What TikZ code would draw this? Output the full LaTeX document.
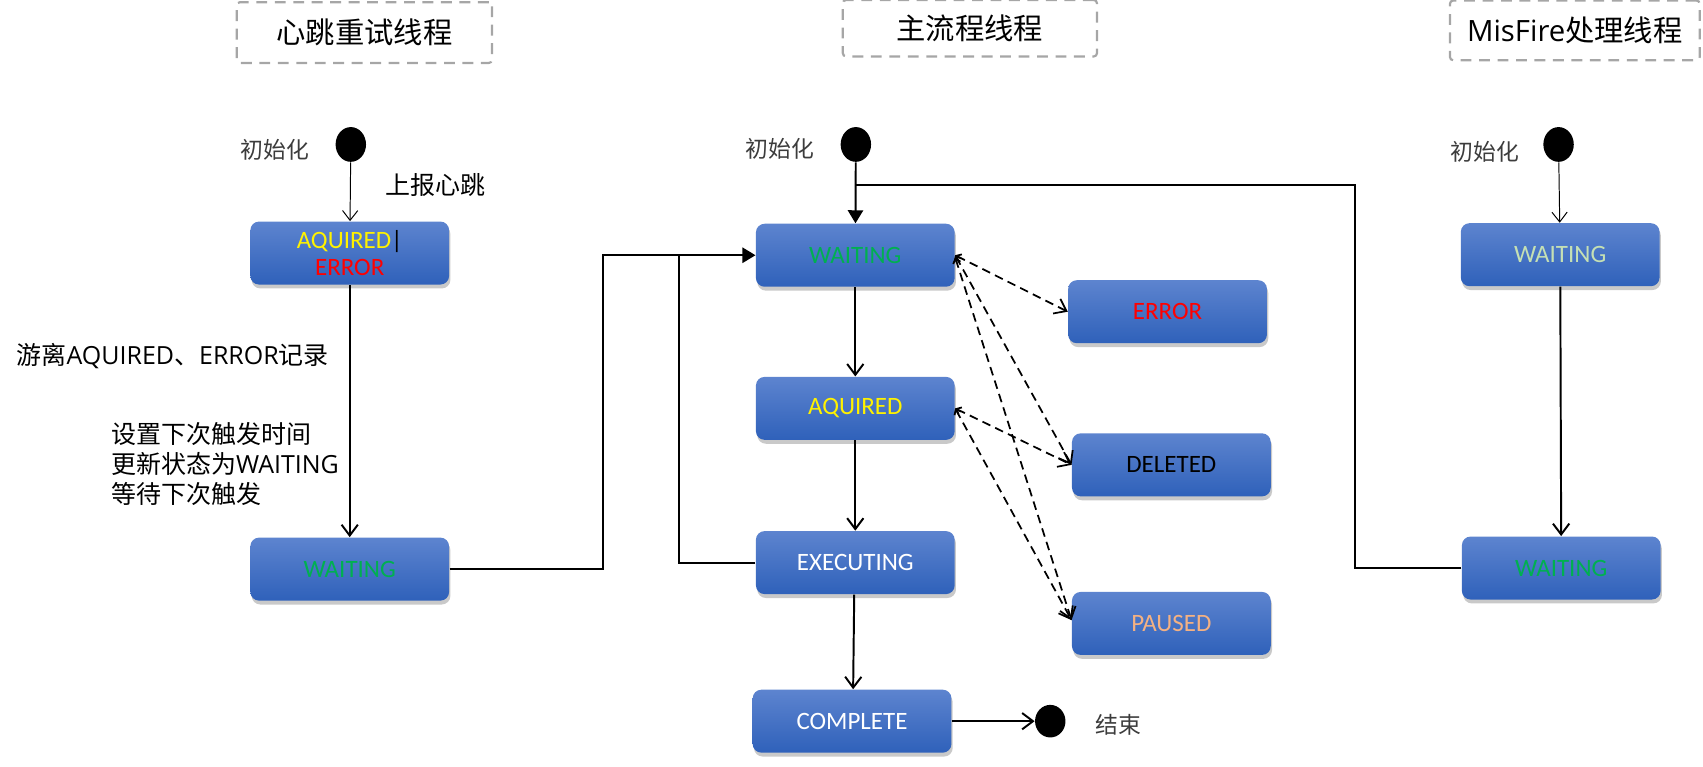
\documentclass[tikz,border=0pt]{standalone}
\usepackage{fontspec}
\setmainfont{Open Sans}
\newfontfamily\cjk{Noto Sans CJK SC}
\newfontfamily\calib{Carlito}
\usetikzlibrary{arrows.meta,shapes.geometric,shadows}
\definecolor{btop}{RGB}{93,132,207}
\definecolor{bbot}{RGB}{47,97,186}
\definecolor{tgreen}{RGB}{0,176,80}
\definecolor{tpale}{RGB}{197,224,180}
\definecolor{torange}{RGB}{244,177,131}
\definecolor{dashgray}{RGB}{166,166,166}
\definecolor{lblgray}{RGB}{60,60,60}
\tikzset{
  stbox/.style={rounded corners=4pt, top color=btop, bottom color=bbot, draw=none,
    minimum width=91.5pt, minimum height=29pt, inner sep=0pt, align=center,
    font=\calib\fontsize{11.5}{13.5}\selectfont,
    drop shadow={shadow xshift=0.6pt, shadow yshift=-1.8pt, opacity=0.3, fill=black!70}},
  titlebox/.style={draw=dashgray, line width=1pt, dash pattern=on 5pt off 3.5pt,
    rounded corners=1.5pt, inner sep=0pt, font=\fontsize{13.5}{16}\selectfont},
  initdot/.style={ellipse, fill=black, minimum width=14pt, minimum height=16pt, inner sep=0pt},
  lbl/.style={inner sep=0pt, font=\fontsize{11.5}{13.75}\selectfont},
  initlbl/.style={inner sep=0pt, text=lblgray, font=\cjk\fontsize{10.5}{12}\selectfont},
  thinln/.style={line width=0.45pt, -{Straight Barb[length=4.5pt,width=7pt]}},
  connln/.style={line width=0.9pt},
  oarrow/.style={connln, -{Straight Barb[length=5pt,width=7.5pt]}},
  farrow/.style={connln, -{Triangle[length=6pt,width=7pt]}},
  darrow/.style={line width=0.8pt, dash pattern=on 4pt off 2.5pt,
    {Straight Barb[length=2pt,width=3.5pt]}-{Straight Barb[length=5pt,width=7.5pt]}}
}
\begin{document}
\begin{tikzpicture}[x=0.5pt,y=-0.5pt]
\useasboundingbox (0,0) rectangle (1568,706);

% titles
\node[titlebox, minimum width=117.5pt, minimum height=28pt] (t1) at (335.5,30) {\cjk 心跳重试线程};
\node[titlebox, minimum width=117pt, minimum height=26pt] (t2) at (893,26) {\cjk 主流程线程};
\node[titlebox, minimum width=115pt, minimum height=27.5pt] (t3) at (1450,28) {MisFire\cjk 处理线程};

% left thread
\node[initdot] (dl) at (323,133) {};
\node[initlbl] (il) at (253,138) {初始化};
\node[lbl] (hb) at (401,170) {\cjk 上报心跳};
\node[stbox] (ae) at (322,233) {\textcolor{yellow}{AQUIRED}\textcolor{black}{|}\\[-1pt]\textcolor{red}{ERROR}};
\node[stbox, text=tgreen] (wl) at (322,524) {WAITING};
\node[lbl, anchor=west] (l1) at (15,328) {\cjk 游离\normalfont AQUIRED\cjk 、\normalfont ERROR\cjk 记录};
\node[lbl, anchor=west, align=left] (l2) at (102,427) {\cjk 设置下次触发时间\\\cjk 更新状态为\normalfont WAITING\\\cjk 等待下次触发};

% middle thread
\node[initdot] (dm) at (788,133) {};
\node[initlbl] (im) at (718,137) {初始化};
\node[stbox, text=tgreen] (wm) at (787.5,235) {WAITING};
\node[stbox, text=yellow] (aq) at (787.5,376) {AQUIRED};
\node[stbox, text=white] (ex) at (787.5,518) {EXECUTING};
\node[stbox, text=white] (co) at (784.5,664) {COMPLETE};
\node[initdot, minimum width=14pt, minimum height=15pt] (de) at (967,664) {};
\node[initlbl] (je) at (1030,667) {结束};
\node[stbox, text=red] (er) at (1075,287) {ERROR};
\node[stbox, text=black] (dl2) at (1078.5,428) {DELETED};
\node[stbox, text=torange] (pa) at (1078.5,574) {PAUSED};

% right thread
\node[initdot] (dr) at (1435,133) {};
\node[initlbl] (ir) at (1367,140) {初始化};
\node[stbox, text=tpale] (r1) at (1436.5,234.5) {WAITING};
\node[stbox, text=tgreen] (r2) at (1437.5,523) {WAITING};

% junction coordinates
\coordinate (cx1) at (555,0);
\coordinate (cx2) at (625,0);
\coordinate (cr) at (1248,170);
\coordinate (jm) at (788,170);

% left connectors
\draw[thinln] (dl) -- (ae);
\draw[oarrow] (ae) -- (wl);
\draw[farrow] (wl.east) -- (wl.east -| cx1) |- (wm.west);

% middle connectors
\draw[farrow] (dm) -- (wm);
\draw[oarrow] (wm) -- (aq);
\draw[oarrow] (aq) -- (ex);
\draw[oarrow] ([xshift=-0.5pt]ex.south) -- ([xshift=0.5pt]co.north);
\draw[oarrow] (co) -- (de);
\draw[connln] (ex.west) -| (wm.west -| cx2);

% dashed
\draw[darrow] (wm.east) -- (er.west);
\draw[darrow] (wm.east) -- (dl2.west);
\draw[darrow] ([yshift=-1pt]wm.east) -- ([yshift=1.5pt]pa.west);
\draw[darrow] (aq.east) -- (dl2.west);
\draw[darrow] (aq.east) -- ([yshift=1.5pt]pa.west);

% right connectors
\draw[thinln] (dr) -- (r1);
\draw[oarrow] (r1) -- (r2);
\draw[connln] (r2.west) -| (cr) -- (jm);
\end{tikzpicture}
\end{document}
